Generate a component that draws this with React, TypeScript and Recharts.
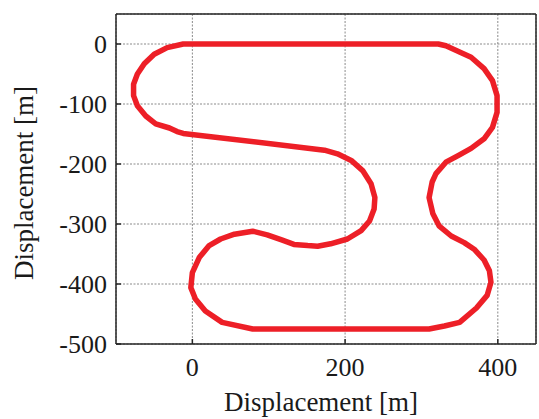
import React from 'react';
import { LineChart, Line, XAxis, YAxis, CartesianGrid } from 'recharts';

// Track path (closed loop), in metres
const trackX = [
  -12, 322, 332, 365, 382, 393, 399, 399, 393, 382, 365, 348, 332, 319, 314, 310, 315, 323, 339, 356, 369, 382,
  389, 391, 386, 372, 350, 330, 310, 79, 39, 17, 4, -2, 0, 9, 22, 37, 55, 79, 98, 116, 133, 151, 164, 181, 203, 221,
  232, 238, 239, 234, 223, 208, 190, 173, -12, -20, -30, -48, -61, -72, -77, -77, -72, -63, -50, -33, -12,
];
const trackY = [
  0, 0, -3, -22, -41, -61, -86, -114, -139, -158, -174, -186, -197, -216, -230, -256, -283, -303, -320, -331, -342,
  -360, -378, -397, -419, -440, -464, -470, -475, -475, -464, -445, -425, -406, -381, -356, -336, -325, -317, -312,
  -318, -326, -334, -336, -337, -333, -325, -311, -295, -275, -256, -233, -211, -194, -183, -177, -149, -146, -140,
  -133, -120, -103, -86, -67, -50, -33, -17, -6, 0,
];

const xTicks = [0, 200, 400];
const yTicks = [-500, -400, -300, -200, -100, 0];
const xDomain = [-100, 450];
const yDomain = [-500, 50];
const axisTitle = 'Displacement [m]';

const data = trackX.map((x, i) => ({ x, y: trackY[i] }));

const FONT = "'Liberation Serif', 'Times New Roman', serif";
const TEXT = '#1a1a1a';
const FRAME = '#262626';

const tickStyle = { fontSize: 26, fill: TEXT, fontFamily: FONT };
const axisLineStyle = { stroke: FRAME, strokeWidth: 1.5 };
const tickLineStyle = { stroke: FRAME, strokeWidth: 1.5 };

const XTitle = (props: any) => {
  const vb = props.viewBox || {};
  return (
    <text
      x={vb.x + vb.width / 2 - 5}
      y={vb.y + 67}
      textAnchor="middle"
      fontSize={27}
      fontFamily={FONT}
      fill={TEXT}
    >
      {axisTitle}
    </text>
  );
};

const YTitle = (props: any) => {
  const vb = props.viewBox || {};
  const cx = vb.x + 33;
  const cy = vb.y + vb.height / 2 + 4;
  return (
    <text
      x={cx}
      y={cy}
      textAnchor="middle"
      fontSize={27}
      fontFamily={FONT}
      fill={TEXT}
      transform={`rotate(-90, ${cx}, ${cy})`}
    >
      {axisTitle}
    </text>
  );
};

export default function App() {
  return (
    <div style={{ position: 'absolute', left: 0, top: 0, background: '#fff' }}>
      <LineChart
        width={539}
        height={419}
        data={data}
        margin={{ top: 13, right: 2, bottom: 0, left: 0 }}
      >
        <CartesianGrid stroke="#8a8a8a" strokeDasharray="2 1.5" strokeWidth={1} />
        <XAxis
          dataKey="x"
          type="number"
          domain={xDomain}
          ticks={xTicks}
          allowDataOverflow
          interval={0}
          height={75}
          tickSize={-5}
          tickMargin={19}
          tick={tickStyle}
          axisLine={axisLineStyle}
          tickLine={tickLineStyle}
          label={{ content: XTitle }}
        />
        <XAxis
          xAxisId="top"
          orientation="top"
          dataKey="x"
          type="number"
          domain={xDomain}
          ticks={xTicks}
          allowDataOverflow
          interval={0}
          height={1}
          tickSize={-5}
          tick={false}
          axisLine={axisLineStyle}
          tickLine={tickLineStyle}
        />
        <YAxis
          type="number"
          domain={yDomain}
          ticks={yTicks}
          allowDataOverflow
          interval={0}
          width={116}
          tickSize={-5}
          tickMargin={14}
          tick={tickStyle}
          axisLine={axisLineStyle}
          tickLine={tickLineStyle}
          label={{ content: YTitle }}
        />
        <YAxis
          yAxisId="right"
          orientation="right"
          type="number"
          domain={yDomain}
          ticks={yTicks}
          allowDataOverflow
          interval={0}
          width={1}
          tickSize={-5}
          tick={false}
          axisLine={axisLineStyle}
          tickLine={tickLineStyle}
        />
        <Line
          dataKey="y"
          type="linear"
          stroke="#ED1F27"
          strokeWidth={5.5}
          strokeLinejoin="round"
          strokeLinecap="round"
          dot={false}
          activeDot={false}
          isAnimationActive={false}
        />
      </LineChart>
    </div>
  );
}
